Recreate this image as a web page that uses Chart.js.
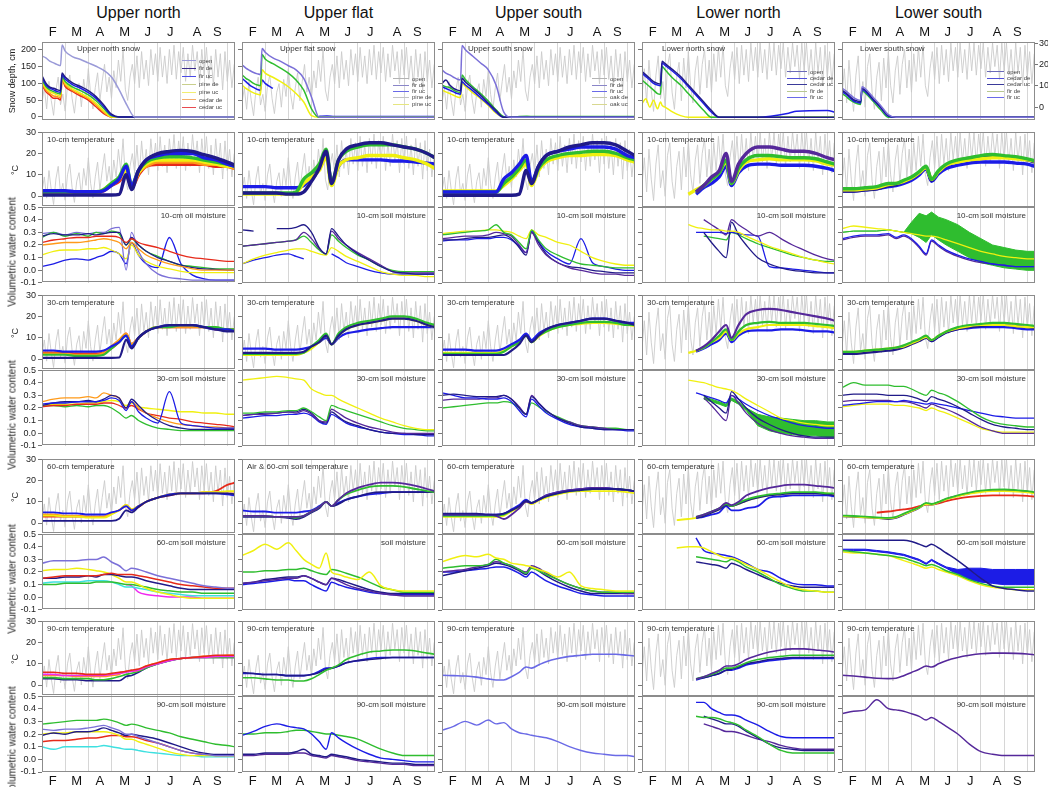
<!DOCTYPE html>
<html lang="en">
<head>
<meta charset="UTF-8">
<title>Snow, soil temperature and soil moisture</title>
<script src="https://cdn.jsdelivr.net/npm/chart.js"></script>
<style>
  body { margin: 0; background: #fff; font-family: "Liberation Sans", Arial, sans-serif; }
  #wrap { position: relative; width: 1048px; height: 787px; overflow: hidden; }
  canvas { position: absolute; }
  .ttl { position: absolute; top: 4px; width: 193px; text-align: center; font-size: 16px; line-height: 18px; color: #111; }
  .lbl { position: absolute; font-size: 8px; line-height: 9px; color: #333; white-space: nowrap; }
  .leg { position: absolute; font-size: 6px; line-height: 7px; color: #444; white-space: nowrap; }
  .leg i { display: inline-block; height: 0; border-top: 1px solid; vertical-align: middle; margin-right: 3px; }
  .yt { position: absolute; color: #222; white-space: nowrap; transform: translate(-50%, -50%) rotate(-90deg); }
</style>
</head>
<body>
<div id="wrap"></div>
<script>
// x = days since ~Jan 18
const G = [0,15,30,45,60,70,80,90,100,109,116,125,135,150,165,180,195,210,225,240,250];
const SG = [0,5,10,15,20,24,26,30,40,50,60,70,80,90,100,110,120,150,190,200,240,250];
const GRID_X = [30,60,90,120,150,180,210,240];
const MONTH_POS = [14,45,75,107,137,166,201,227];
const MONTH_LBL = ['F','M','A','M','J','J','A','S'];
const COL_TITLES = ['Upper north','Upper flat','Upper south','Lower north','Lower south'];
const AIR_STEP = 3;

// air temperature (gray), every 3 days
const airUp = [2,9,-1,12,3,-4,8,14,1,6,
  -2,10,15,4,-3,7,11,0,13,5,
  18,6,-1,9,16,3,12,20,7,14,
  4,17,9,22,12,27,8,3,14,20,
  11,24,9,26,13,22,10,27,15,25,
  12,28,14,24,11,27,15,29,13,26,
  16,28,12,25,14,29,17,26,11,27,
  15,28,13,24,10,27,14,25,8,26,
  12,22,9,20];
const airLow = [5,18,2,22,8,-2,15,24,4,12,
  0,19,25,7,-1,14,21,3,23,9,
  26,10,2,17,24,6,20,27,9,22,
  7,25,12,28,14,29,10,5,18,26,
  13,28,11,29,15,27,12,30,17,28,
  14,30,16,27,13,30,17,30,15,29,
  18,30,14,28,16,30,19,29,13,30,
  17,30,15,27,12,30,16,28,10,29,
  14,26,11,25];

// ---- Upper north ----
const un_s_open   = [180,175,165,160,155,152,213,195,178,170,160,150,138,118,80,35,0,0,0,0,0,0];
const un_s_navy   = [122,100,88,85,80,78,130,118,100,90,78,60,35,8,0,0,0,0,0,0,0,0];
const un_s_blue   = [118,95,85,80,75,73,125,112,95,85,72,55,30,5,0,0,0,0,0,0,0,0];
const un_s_green  = [110,90,80,75,70,68,120,105,88,78,65,48,25,3,0,0,0,0,0,0,0,0];
const un_s_yellow = [105,85,75,70,65,62,115,100,82,70,58,40,18,0,0,0,0,0,0,0,0,0];
const un_s_orange = [100,80,70,62,60,57,112,95,78,66,54,35,14,0,0,0,0,0,0,0,0,0];
const un_s_red    = [95,75,65,55,55,50,110,90,75,62,50,30,10,0,0,0,0,0,0,0,0,0];

const un10t_navy   = [0.5,0.5,0.5,0.5,0.5,0.5,0.5,0.5,0.8,10,3,12,17,20,21,21.5,21,19.5,18,16,14.5];
const un10t_blue   = [2.5,2.5,2.5,2,2,2,2.5,5,8,14,5,12,17,19,20,20,20,18,17,15,14];
const un10t_green  = [2,2,2,2,2,2,3,6,9,15,5,12,16,18,18.5,18.5,18,17,16,15,14];
const un10t_yellow = [1.5,1.5,1.5,1.5,1.5,1.5,3,6,8,12,5,11,15,17,17,17,17,16,15,14,14];
const un10t_orange = [1.5,1.5,1.5,1.5,1.5,1.5,3,5,8,12,4,11,14,16,16,16,16,15,15,14,13];
const un10t_red    = [2,2,2,1.5,1.5,1.5,2.5,5,7,11,4,10,14,15,15,15,15,15,14,14,13];

const un10m_navy   = [0.27,0.29,0.28,0.28,0.29,0.28,0.29,0.3,0.3,0.2,0.26,0.2,0.15,0.1,0.07,0.04,0.02,0.01,0.005,0,0];
const un10m_green  = [0.26,0.3,0.27,0.29,0.27,0.3,0.29,0.31,0.29,0.2,0.25,0.2,0.15,0.11,0.07,0.04,0.03,0.02,0.01,0.01,0.01];
const un10m_lpurp  = [0.29,0.3,0.28,0.3,0.29,0.3,0.3,0.33,0.34,0.0,0.3,0.15,0.05,-0.03,-0.06,-0.07,-0.08,-0.08,-0.08,-0.08,-0.08];
const un10m_blue   = [0.03,0.05,0.08,0.09,0.08,0.1,0.12,0.15,0.13,0.05,0.22,0.12,0.05,0.02,0.26,0.05,-0.04,-0.07,-0.08,-0.08,-0.08];
const un10m_red    = [0.22,0.24,0.25,0.26,0.26,0.27,0.27,0.27,0.26,0.22,0.25,0.22,0.2,0.18,0.15,0.12,0.1,0.09,0.08,0.07,0.07];
const un10m_orange = [0.2,0.21,0.22,0.22,0.23,0.24,0.25,0.24,0.22,0.17,0.22,0.17,0.12,0.08,0.05,0.03,0.01,0,0,0,0];
const un10m_yellow = [0.12,0.15,0.16,0.16,0.17,0.17,0.18,0.16,0.13,0.09,0.2,0.12,0.07,0.03,0.01,-0.01,-0.02,-0.02,-0.02,-0.02,-0.02];

const un30t_navy   = [0.5,0.5,0.5,0.5,0.5,0.5,0.5,0.5,0.7,9,5,10,13,15,16,16,16,15,14,13,13];
const un30t_blue   = [4,4,3.5,3.5,3.5,3.5,4,6,8,11,6,10,13,15,16,16,16,15,14,14,13];
const un30t_red    = [3,3,3,2.5,2.5,2.5,3,5,8,12,7,10,13,15,15,15,15,15,14,14,14];
const un30t_green  = [2,2,2,1.5,1.5,1.5,2,5,8,11,6,10,13,15,15,16,16,15,15,14,14];
const un30t_orange = [2.5,2.5,2.5,2,2,2,3,6,9,12,7,10,13,15,15,15,15,15,14,14,14];

const un30m_orange = [0.25,0.27,0.28,0.28,0.29,0.28,0.32,0.3,0.28,0.2,0.25,0.2,0.16,0.12,0.09,0.07,0.06,0.05,0.05,0.04,0.04];
const un30m_navy   = [0.22,0.24,0.25,0.25,0.26,0.25,0.27,0.3,0.28,0.2,0.27,0.22,0.16,0.1,0.06,0.04,0.03,0.03,0.03,0.03,0.03];
const un30m_green  = [0.22,0.22,0.21,0.22,0.21,0.22,0.22,0.2,0.16,0.12,0.14,0.1,0.07,0.04,0.03,0.02,0.02,0.02,0.02,0.02,0.02];
const un30m_yellow = [0.22,0.23,0.23,0.23,0.24,0.24,0.25,0.26,0.25,0.22,0.24,0.21,0.2,0.19,0.18,0.17,0.17,0.16,0.16,0.15,0.15];
const un30m_red    = [0.21,0.22,0.22,0.23,0.23,0.23,0.24,0.24,0.22,0.2,0.22,0.19,0.16,0.14,0.12,0.11,0.09,0.08,0.07,0.06,0.05];
const un30m_blue   = [0.23,0.24,0.24,0.25,0.25,0.25,0.26,0.28,0.26,0.18,0.25,0.17,0.12,0.08,0.33,0.08,0.06,0.05,0.04,0.04,0.04];

const un60t_blue   = [5,5,4.5,4.5,4,4,4,5,6,8,6,8,10,12,13.5,14,14,14,14,13.5,13];
const un60t_red    = [3,3,3,3,3,3,3,4.5,6,8,6,7.5,10,12,13,14,14,14,15,18,19];
const un60t_orange = [4,4,3.5,3.5,3,3,3,4.5,6,8.5,6.5,8,10,12,13.5,14,14,14.5,14.5,14,14];
const un60t_navy   = [1,1,1,1,1,1,1,1,2,6,5,7.5,10,12,13,14,14,14,14,14,13.5];
const un60t_yellow = [3.5,3.5,3,3,2.5,2.5,2.5,4,6,8.5,6.5,8,10,12,13.5,14,14,14.5,14.5,15,15];

const un60m_lpurp  = [0.27,0.29,0.29,0.29,0.3,0.3,0.32,0.28,0.25,0.21,0.23,0.22,0.2,0.17,0.15,0.13,0.11,0.09,0.08,0.07,0.07];
const un60m_yellow = [0.21,0.22,0.22,0.23,0.22,0.21,0.2,0.18,0.15,0.12,0.12,0.1,0.07,0.04,0.02,0.0,-0.01,-0.01,-0.01,-0.01,-0.01];
const un60m_red    = [0.15,0.16,0.17,0.17,0.17,0.17,0.18,0.19,0.18,0.18,0.18,0.17,0.16,0.14,0.12,0.1,0.09,0.08,0.07,0.07,0.07];
const un60m_navy   = [0.15,0.15,0.16,0.16,0.17,0.16,0.18,0.18,0.17,0.16,0.16,0.15,0.13,0.11,0.09,0.07,0.06,0.06,0.06,0.06,0.06];
const un60m_green  = [0.1,0.1,0.11,0.11,0.11,0.12,0.12,0.12,0.11,0.1,0.1,0.09,0.08,0.06,0.05,0.04,0.04,0.03,0.03,0.03,0.03];
const un60m_cyan   = [0.11,0.12,0.12,0.12,0.13,0.13,0.13,0.12,0.1,0.08,0.08,0.07,0.06,0.04,0.03,0.02,0.01,0.01,0.01,0.01,0.01];
const un60m_mag    = [null,null,null,null,null,null,null,null,null,0.1,0.09,0.04,0.02,0.01,0,0,0,-0.01,-0.01,-0.01,-0.01];

const un90t_red    = [6,6,5.5,5.5,5,5,5,5.5,6,6.5,7,7.5,9,10.5,12,12.5,13,13.5,14,14,14];
const un90t_mag    = [5,5,4.5,4.5,4.5,4.5,4.5,5,5.5,6,6.5,7,8.5,10,11.5,12.5,13,13,13.5,13.5,13.5];
const un90t_navy   = [3,3,2.5,2.5,2,2,2,2,2,4,4.5,6,8,10,11.5,12.5,13,13,13,13,13];
const un90t_green  = [3.5,3.5,3,3,3,2.5,2.5,3,4,5,5.5,6.5,8,10,11.5,12.5,13,13,13,13,13];
const un90t_orange = [4.5,4.5,4.5,4,4,4,4,4.5,5,6.5,6.5,7,9,10.5,12,12.5,13,13.5,13.5,14,14];

const un90m_green  = [0.28,0.29,0.3,0.31,0.31,0.31,0.32,0.31,0.29,0.27,0.28,0.27,0.25,0.23,0.21,0.18,0.16,0.14,0.12,0.11,0.1];
const un90m_lpurp  = [0.24,0.23,0.24,0.24,0.25,0.26,0.27,0.25,0.23,0.2,0.2,0.18,0.16,0.13,0.1,0.07,0.05,0.04,0.03,0.03,0.03];
const un90m_navy   = [0.19,0.21,0.2,0.22,0.22,0.23,0.25,0.23,0.21,0.19,0.2,0.19,0.18,0.16,0.13,0.1,0.07,0.05,0.04,0.04,0.04];
const un90m_yellow = [0.2,0.21,0.21,0.22,0.22,0.22,0.22,0.21,0.19,0.16,0.16,0.14,0.12,0.09,0.06,0.04,0.03,0.03,0.03,0.03,0.03];
const un90m_red    = [0.14,0.15,0.15,0.16,0.17,0.17,0.18,0.19,0.19,0.18,0.18,0.17,0.15,0.13,0.1,0.07,0.05,0.04,0.03,0.03,0.03];
const un90m_cyan   = [0.1,0.08,0.1,0.1,0.1,0.1,0.11,0.1,0.09,0.08,0.08,0.07,0.06,0.05,0.04,0.03,0.03,0.02,0.02,0.02,0.02];

// ---- Upper flat ----
const uf_s_lpurp  = [155,145,138,132,128,126,203,192,175,165,152,140,115,60,0,0,0,0,0,0,0,0];
const uf_s_green  = [125,115,108,100,95,93,185,172,158,145,130,110,80,25,0,0,0,0,0,0,0,0];
const uf_s_yellow = [95,85,78,72,68,66,140,130,118,105,90,70,45,5,0,0,0,0,0,0,0,0];
const uf_s_blue   = [115,105,95,88,82,80,110,100,85,null,null,null,null,null,3,4,2,2,2,2,2,2];

const uf10t_navy   = [1.5,1.5,1.5,1.5,1,1,2,7,13,21,6,17,22,24,25,25,24,23,22,20,18];
const uf10t_green  = [1.5,1.5,1.5,1.5,1.5,2,8,11,15,22,6,17,21,23,24,24,24,23,22,20,18];
const uf10t_yellow = [1,1,1,1,1,1.5,6,9,12,18,5,14,17,18,19,19,19,18,17,15,13];
const uf10t_blue   = [4.5,4.5,4.5,4,4,4,5,9,14,20,7,14,17,17,17,17,16.5,16.5,16,15.5,15];

const uf10m_navy   = [0.32,0.31,null,0.33,0.33,0.34,0.36,0.3,0.18,0.13,0.33,0.27,0.2,0.13,0.08,0.03,-0.01,-0.02,-0.03,-0.03,-0.03];
const uf10m_purple = [0.19,0.2,0.21,0.22,0.23,0.24,0.3,0.25,0.17,0.13,0.31,0.25,0.2,0.14,0.09,0.04,-0.01,-0.02,-0.02,-0.02,-0.02];
const uf10m_green  = [0.19,0.2,0.21,0.22,0.23,0.24,0.27,0.22,0.16,0.13,0.28,0.23,0.18,0.12,0.08,0.03,0.0,-0.01,-0.01,-0.01,-0.01];
const uf10m_yellow = [0.05,0.09,0.12,0.14,0.16,0.17,0.17,0.15,0.13,0.12,0.18,0.15,0.11,0.07,0.03,-0.01,-0.03,-0.04,-0.04,-0.05,-0.05];
const uf10m_blue   = [0.05,0.08,0.1,0.12,0.13,0.11,0.09,null,null,null,0.13,0.1,0.06,0.03,0.0,-0.02,-0.03,-0.03,-0.03,-0.03,-0.03];

const uf30t_navy   = [3,3,3,3,3,3,3.5,6,8,11,7,11,14,16,17,18,19,19,18,16,15];
const uf30t_green  = [2.5,2.5,2.5,2.5,2.5,2.5,3,6,9,12,7,12,15,17,18,19,20,20,19,17,16];
const uf30t_yellow = [2,2,2,2,2,2,3,5,8,11,7,11,14,16,17,18,19,19,18,16,15];
const uf30t_blue   = [5,5,5,4.5,4.5,4.5,5,6,8,10,7,10,12,13,14,14.5,15,15,15,15,15];

const uf30m_yellow = [0.42,0.43,0.44,0.45,0.44,0.43,0.42,0.35,0.32,0.3,0.3,0.27,0.24,0.2,0.16,0.12,0.09,0.06,0.04,0.03,0.03];
const uf30m_green  = [0.16,0.16,0.17,0.17,0.18,0.18,0.2,0.17,0.13,0.1,0.22,0.2,0.18,0.15,0.12,0.09,0.06,0.04,0.03,0.02,0.02];
const uf30m_purple = [0.14,0.15,0.15,0.16,0.17,0.16,0.18,0.15,0.1,0.09,0.19,0.16,0.12,0.08,0.05,0.03,0.01,0.0,0.0,0.0,0.0];
const uf30m_navy   = [0.14,0.15,0.16,0.16,0.17,0.17,0.19,0.16,0.1,0.08,0.17,0.13,0.09,0.06,0.03,0.01,0.0,0.0,-0.01,-0.01,-0.01];
const uf30m_blue   = [0.12,0.13,0.14,0.14,0.15,0.15,0.16,0.14,0.09,0.07,0.15,0.12,0.08,0.05,0.03,0.01,0.0,-0.01,-0.01,-0.02,-0.02];

const uf60t_purple = [3.5,3.5,3.5,3,3,3,3.5,5.5,7.5,10,8,11,14,16.5,18,19,19,18.5,17.5,16,15];
const uf60t_green  = [3.5,3.5,3.5,3,3,2.5,3.5,5.5,7.5,10,8,11,13.5,15.5,17,17.5,17.5,17,16,15,14.5];
const uf60t_navy   = [3,3,3,3,2.5,2,3,5,7,10,8,9,11,12.5,14,14.5,14.5,14.5,14.5,14.5,14.5];
const uf60t_blue   = [6,5.5,5.5,5,5,5,5.5,6,8,10,8,9.5,11,12.5,13.5,14,14.5,14.5,14.5,14.5,14.5];

const uf60m_yellow = [0.33,0.37,0.42,0.38,0.43,0.37,0.3,0.26,0.23,0.35,0.2,0.18,0.16,0.14,0.2,0.09,0.06,0.05,0.05,0.05,0.05];
const uf60m_green  = [0.2,0.2,0.21,0.21,0.22,0.22,0.23,0.21,0.19,0.18,0.22,0.21,0.19,0.16,0.12,0.08,0.06,0.04,0.04,0.04,0.04];
const uf60m_purple = [0.11,0.12,0.13,0.14,0.15,0.15,0.17,0.15,0.12,0.1,0.15,0.13,0.1,0.07,0.05,0.03,0.02,0.01,0.01,0.01,0.01];
const uf60m_navy   = [0.11,0.12,0.14,0.15,0.16,0.16,0.17,0.15,0.12,0.1,0.15,0.14,0.12,0.09,0.06,0.04,0.03,0.03,0.03,0.03,0.03];
const uf60m_blue   = [0.1,0.11,0.12,0.13,0.14,0.13,0.13,0.1,0.07,0.05,0.12,0.1,0.08,0.06,0.04,0.03,0.02,0.02,0.02,0.02,0.02];

const uf90t_green  = [3.5,3.5,3,2.5,2.5,2,2,3,5,7,8,9.5,12,14,15.5,16,16.5,16.5,16,15,14.5];
const uf90t_navy   = [6,5.5,5,5,4.5,4.5,4.5,5,6,7.5,8,9,10.5,11.5,12,12.5,13,13,13,13,13];
const uf90t_blue   = [5.5,5.5,5,5,4.5,4.5,4.5,5,6.5,8,8,9,10.5,11.5,12.5,13,13,13,13,13,13];

const uf90m_blue   = [0.19,0.22,0.26,0.28,0.26,0.25,0.24,0.2,0.14,0.08,0.21,0.17,0.13,0.08,0.04,0.01,0.0,-0.01,-0.02,-0.02,-0.02];
const uf90m_green  = [0.2,0.2,0.21,0.21,0.22,0.23,0.23,0.22,0.21,0.2,0.2,0.19,0.18,0.16,0.12,0.08,0.05,0.03,0.03,0.03,0.03];
const uf90m_navy   = [0.04,0.04,0.05,0.05,0.05,0.06,0.08,0.04,0.03,0.02,0.04,0.03,0.02,0.0,-0.01,-0.02,-0.03,-0.03,-0.04,-0.04,-0.04];
const uf90m_purple = [0.03,0.03,0.04,0.04,0.04,0.05,0.05,0.03,0.02,0.01,0.03,0.02,0.01,-0.01,-0.02,-0.03,-0.04,-0.04,-0.05,-0.05,-0.05];

// ---- Upper south ----
const us_s_lpurp  = [140,130,125,118,112,110,212,200,180,160,140,95,15,0,0,0,0,0,0,0,0,0];
const us_s_navy   = [100,110,95,85,80,78,115,105,85,65,42,20,0,0,0,0,0,0,0,0,0,0];
const us_s_blue   = [90,85,80,75,70,68,105,96,78,58,38,15,0,0,0,0,0,0,0,0,0,0];
const us_s_green  = [95,90,88,80,75,73,125,112,90,70,48,22,2,0,2,3,2,2,2,2,2,2];
const us_s_yellow = [80,75,70,65,60,58,100,92,72,55,35,12,0,0,0,0,0,0,0,0,0,0];

const us10t_navy   = [0.5,0.5,0.5,0.5,0.5,0.5,0.5,0.5,1,12,6,14,19,21,23,24,25,25,24,21,19];
const us10t_blue   = [2,2,2,2,2,2,8,11,15,19,7,14,19,21,22,23,23,23,22,19,18];
const us10t_green  = [2,2,2,2,2,2,6,9,13,17,6,13,17,19,20,20.5,21,21,20,18,17];
const us10t_yellow = [2.5,2.5,2.5,2.5,2.5,2.5,5,8,12,15,5,12,16,18,19,19,19.5,19.5,19,17,16];

const us10m_green  = [0.28,0.29,0.3,0.31,0.32,0.36,0.3,0.28,0.22,0.17,0.32,0.24,0.17,0.12,0.08,0.05,0.04,0.03,0.02,0.02,0.02];
const us10m_yellow = [0.29,0.3,0.31,0.31,0.32,0.32,0.31,0.3,0.27,0.25,0.32,0.28,0.26,0.22,0.2,0.15,0.1,0.07,0.05,0.04,0.04];
const us10m_purple = [0.25,0.26,0.27,0.27,0.28,0.3,0.29,0.27,0.2,0.14,0.3,0.2,0.12,0.06,0.02,0.0,-0.02,-0.03,-0.03,-0.04,-0.04];
const us10m_navy   = [0.24,0.24,0.25,0.26,0.26,0.27,0.28,0.25,0.18,0.12,0.3,0.22,0.13,0.06,0.03,0.02,0.0,-0.01,-0.02,-0.02,-0.02];
const us10m_blue   = [0.23,0.24,0.24,0.25,0.25,0.26,0.26,0.24,0.19,0.14,0.31,0.23,0.15,0.09,0.05,0.25,0.06,0.03,0.01,0.0,0.0];

const us30t_navy   = [2,2,2,2,2,2,2,4,7,11,8,11,14,16,17,18,19,19,18,17,16];
const us30t_blue   = [4.5,4.5,4.5,4,4,4,5,7,9,12,9,12,14,16,17,18,19,19,18,17,17];
const us30t_green  = [2.5,2.5,2.5,2.5,2.5,2.5,3.5,6,8,11,8,11,13,15,16,17,17.5,17.5,17,16,16];
const us30t_yellow = [3,3,3,3,3,3,4,6,8,11,8,10.5,13,15,16,16.5,17,17,16.5,16,15.5];

const us30m_navy   = [0.3,0.31,0.3,0.29,0.29,0.29,0.3,0.27,0.2,0.15,0.29,0.24,0.18,0.12,0.08,0.05,0.04,0.03,0.03,0.03,0.03];
const us30m_blue   = [0.32,0.3,0.28,0.28,0.27,0.27,0.28,0.25,0.18,0.13,0.27,0.22,0.16,0.11,0.07,0.05,0.04,0.03,0.03,0.02,0.02];
const us30m_purple = [0.26,0.27,0.27,0.27,0.28,0.28,0.3,0.27,0.21,0.15,0.3,0.24,0.18,0.12,0.09,0.06,0.05,0.04,0.03,0.03,0.03];
const us30m_green  = [0.2,0.21,0.22,0.23,0.24,0.24,0.25,0.24,0.2,0.15,0.24,0.21,0.17,0.13,0.09,0.06,0.05,0.04,0.04,0.03,0.03];

const us60t_navy   = [4.5,4.5,4.5,4.5,4,4,4.5,6,8,10.5,9.5,11,12.5,14,15,15.5,16,16,16,15.5,15];
const us60t_purple = [4,4,4,4,4,3.5,2,4,7,10,9.5,11,13,14.5,15.5,16,16.5,16.5,16,15.5,15];
const us60t_blue   = [4,4,4,4,4,4,4.5,6.5,8.5,11,9.5,11,13,14.5,15.5,16,16.5,16.5,16,15.5,15];
const us60t_green  = [3.5,3.5,3.5,3.5,3.5,3.5,4,6,8,10.5,9.5,11,12.5,14,15,15.5,16,16,16,15.5,15];
const us60t_yellow = [3,3,3,3,3,3,3.5,5.5,7.5,10,9,10.5,12,13.5,14.5,15,15,15,15,14.5,14];

const us60m_yellow = [0.28,0.31,0.33,0.32,0.34,0.31,0.3,0.27,0.26,0.25,0.24,0.22,0.2,0.16,0.2,0.09,0.07,0.06,0.05,0.05,0.05];
const us60m_green  = [0.23,0.24,0.25,0.25,0.26,0.3,0.27,0.25,0.22,0.19,0.23,0.21,0.18,0.14,0.1,0.07,0.05,0.04,0.04,0.04,0.04];
const us60m_purple = [0.2,0.21,0.22,0.24,0.26,0.28,0.27,0.25,0.22,0.2,0.25,0.23,0.19,0.14,0.1,0.07,0.05,0.04,0.04,0.03,0.03];
const us60m_navy   = [0.17,0.19,0.21,0.23,0.25,0.27,0.26,0.24,0.21,0.18,0.24,0.21,0.17,0.12,0.08,0.05,0.03,0.03,0.03,0.03,0.03];
const us60m_blue   = [0.2,0.2,0.21,0.22,0.23,0.24,0.24,0.22,0.19,0.16,0.2,0.17,0.13,0.09,0.06,0.03,0.02,0.01,0.01,0.01,0.01];

const us90t_lblue  = [4.7,4.5,4.3,3.8,3,2.5,2.5,4,6,8.5,8,9.5,11,12.5,13.5,14,14.5,14.5,14.5,14,13.7];
const us90m_lblue  = [0.23,0.26,0.3,0.27,0.31,0.28,0.29,0.24,0.21,0.2,0.19,0.18,0.17,0.14,0.1,0.07,0.05,0.04,0.03,0.03,0.02];

// ---- Lower north ----
const ln_s_navy   = [135,125,115,105,100,98,165,158,140,120,95,70,45,20,0,0,0,0,0,0,0,0];
const ln_s_blue   = [130,120,110,100,95,93,160,153,135,115,90,65,40,15,0,0,0,0,12,18,20,15];
const ln_s_green  = [110,100,90,80,70,68,150,140,115,95,70,45,20,0,0,0,0,0,0,0,0,0];
const ln_s_yellow = [40,55,30,50,25,45,35,30,15,5,0,0,0,0,0,0,0,0,0,0,0,0];

const ln10t_purple = [null,null,null,null,null,2,5,9,12,20,7,15,20,23,23,22,21,21,20,18,17];
const ln10t_green  = [null,null,null,null,null,2,5,8,11,17,6,13,17,19,19,18.5,18,18,17.5,16,15];
const ln10t_yellow = [null,null,null,null,1,3,5,8,11,16,6,12,16,17,17.5,17,17,17,16.5,15,14.5];
const ln10t_blue   = [null,null,null,null,null,1,4,6,9,14,5,11,14,15,15,14.5,14.5,14.5,14,13,12];

const ln10m_yellow = [null,null,null,null,0.36,0.34,0.33,0.32,0.32,0.31,0.31,0.3,0.27,0.23,0.19,0.16,0.13,0.1,0.08,0.06,0.05];
const ln10m_purple = [null,null,null,null,null,null,0.4,0.36,0.32,0.28,0.4,0.36,0.32,0.27,0.3,0.25,0.2,0.16,0.12,0.09,0.08];
const ln10m_navy   = [null,null,null,null,null,null,0.3,0.22,0.15,0.1,0.38,0.28,0.2,0.1,0.05,0.02,0.0,-0.01,-0.02,-0.02,-0.02];
const ln10m_blue   = [null,null,null,null,null,0.3,0.3,0.3,0.3,0.29,0.3,0.29,0.28,0.27,0.03,0.02,0.01,0.0,-0.01,-0.02,-0.02];
const ln10m_green  = [null,null,null,null,null,null,0.27,0.26,0.25,0.24,0.3,0.28,0.25,0.21,0.18,0.15,0.12,0.1,0.08,0.07,0.07];

const ln30t_purple = [null,null,null,null,null,4,6,9,13,16,10,16,21,23,23.5,23,22,21,20,19,18];
const ln30t_green  = [null,null,null,null,null,4,5.5,8,11,14,9,13,16,17,17.5,17,17,17,16.5,16,15.5];
const ln30t_yellow = [null,null,null,null,3,4,5.5,8,10,13,9,12,14,15,16,16,16,16,15.5,15,14.5];
const ln30t_blue   = [null,null,null,null,null,3.5,5,7,9,12,8,11,13,13.5,13.5,14,14,13.5,13,13,12.5];

const ln30m_yellow  = [null,null,null,null,0.42,0.41,0.4,0.38,0.36,0.35,0.34,0.31,0.27,0.22,0.17,0.12,0.1,0.08,0.07,0.06,0.06];
const ln30m_navy    = [null,null,null,null,null,null,0.3,0.25,0.2,0.16,0.33,0.27,0.2,0.12,0.07,0.03,0.0,-0.02,-0.03,-0.03,-0.03];
const ln30m_purple  = [null,null,null,null,null,null,0.28,0.22,0.15,0.1,0.3,0.24,0.16,0.08,0.03,0.0,-0.02,-0.03,-0.04,-0.04,-0.04];
const ln30m_blue    = [null,null,null,null,null,0.32,0.3,0.28,0.26,0.24,0.3,0.27,0.23,0.18,0.14,0.11,0.08,0.06,0.05,0.04,0.04];
const ln30m_greenHi = [null,null,null,null,null,null,0.29,0.27,0.25,0.23,0.28,0.25,0.2,0.15,0.13,0.12,0.11,0.1,0.1,0.09,0.09];
const ln30m_greenLo = [null,null,null,null,null,null,0.27,0.25,0.23,0.21,0.26,0.23,0.18,0.06,0.02,0.0,-0.01,-0.02,-0.02,-0.03,-0.03];

const ln60t_purple = [null,null,null,null,null,3,4,5.5,7,9.5,8.5,10,13,15,16.5,17.5,18,18,17.5,17,16.5];
const ln60t_green  = [null,null,null,null,null,3,4,5.5,7,9,8,9.5,11,12.5,13.5,14,14.5,14.5,14.5,14,14];
const ln60t_navy   = [null,null,null,null,null,2.5,3.5,5,6.5,8.5,8,9,10.5,12,13,13.5,14,14,14,13.5,13];
const ln60t_blue   = [null,null,null,null,null,2.5,3,4,5,8,6,6,7,8,12,12.5,13,13,13,13,12.5];
const ln60t_yellow = [null,null,null,1.5,2,2.5,3.5,5,6.5,8.5,8,9,10.5,12,13,13.5,14,14,14,14,13.5];

const ln60m_yellow = [null,null,null,0.39,0.4,0.4,0.39,0.36,0.33,0.31,0.31,0.29,0.26,0.22,0.17,0.12,0.08,0.06,0.05,0.04,0.04];
const ln60m_blue   = [null,null,null,null,null,0.47,0.37,0.35,0.34,0.33,0.32,0.3,0.27,0.22,0.2,0.15,0.11,0.1,0.1,0.09,0.09];
const ln60m_green  = [null,null,null,null,null,0.32,0.31,0.3,0.29,0.28,0.3,0.28,0.24,0.2,0.15,0.1,0.07,0.05,0.05,0.04,0.04];
const ln60m_navy   = [null,null,null,null,null,0.28,0.27,0.26,0.25,0.23,0.27,0.25,0.22,0.18,0.14,0.11,0.09,0.08,0.08,0.08,0.08];

const ln90t_purple = [null,null,null,null,null,3,4,5.5,7,9,9,10,12,14,15.5,16.5,17,17,16.5,16,15.5];
const ln90t_green  = [null,null,null,null,null,3,4,5,6.5,8,8,9,10.5,12,13,13.5,14,14,14,14,14];
const ln90t_navy   = [null,null,null,null,null,3,3.5,4.5,5.5,7,7.5,8.5,10,11,12,12.5,13,13,13,13,13];
const ln90t_blue   = [null,null,null,null,null,2.5,3.5,4.5,5.5,7,7,8,9.5,10.5,11.5,12,12.5,12.5,12.5,12.5,12.5];

const ln90m_blue   = [null,null,null,null,null,0.45,0.45,0.4,0.37,0.35,0.35,0.34,0.31,0.27,0.22,0.18,0.17,0.17,0.17,0.17,0.17];
const ln90m_green  = [null,null,null,null,null,0.34,0.33,0.33,0.32,0.3,0.29,0.27,0.23,0.18,0.12,0.07,0.05,0.05,0.05,0.05,0.05];
const ln90m_navy   = [null,null,null,null,null,null,0.34,0.32,0.3,0.28,0.28,0.26,0.22,0.17,0.12,0.09,0.08,0.07,0.07,0.07,0.07];
const ln90m_purple = [null,null,null,null,null,null,0.28,0.26,0.24,0.22,0.22,0.21,0.19,0.16,0.14,0.11,0.09,0.08,0.08,0.08,0.08];

// ---- Lower south ----
const ls_s_lpurp  = [86,78,68,58,52,50,90,85,60,35,8,0,0,0,0,0,0,0,0,0,0,0];
const ls_s_navy   = [80,72,62,52,48,46,85,80,55,30,5,0,0,0,0,0,0,0,0,0,0,0];
const ls_s_blue   = [75,68,58,48,44,42,82,76,52,28,3,0,0,0,0,0,0,0,0,0,0,0];
const ls_s_green  = [70,62,52,45,40,38,78,72,48,22,0,0,0,0,0,0,0,0,0,0,0,0];
const ls_s_yellow = [null,null,null,null,null,null,null,null,null,null,1,1,1,1,1,1,1,1,1,1,1,1];

const ls10t_green  = [3.5,3.5,4,4.5,6,6,7.5,9,11.5,14,8,12,15,17,18,19,19.5,19,18.5,17.5,16.5];
const ls10t_yellow = [3,3,3.5,4,5.5,6,7,8.5,11,13.5,8,11.5,14.5,16,17,17.5,18,18,17.5,17,16.5];
const ls10t_navy   = [2.5,2.5,3,3.5,5,5.5,7,8.5,11,13.5,7.5,11.5,14.5,16.5,17.5,18.5,19,18.5,18,17,16];
const ls10t_blue   = [2.5,2.5,3,3.5,4.5,5,6,7.5,10,13,7,10.5,13,14.5,15.5,16,16,16,15.5,15,14];

const ls10m_yellow  = [0.33,0.35,0.34,0.33,0.32,0.31,0.3,0.29,0.28,0.27,0.27,0.26,0.24,0.21,0.18,0.15,0.13,0.11,0.1,0.09,0.09];
const ls10m_blue    = [0.25,0.27,0.28,0.28,0.29,0.26,0.28,0.25,0.19,0.13,0.24,0.2,0.16,0.12,0.09,0.07,0.05,0.04,0.03,0.03,0.03];
const ls10m_purple  = [0.24,0.26,0.27,0.27,0.28,0.25,0.27,0.24,0.18,0.12,0.23,0.19,0.15,0.11,0.08,0.06,0.05,0.04,0.03,0.03,0.03];
const ls10m_greenHi = [0.3,0.31,0.31,0.31,0.32,0.31,0.3,0.38,0.45,0.43,0.46,0.42,0.4,0.36,0.3,0.25,0.2,0.18,0.16,0.15,0.15];
const ls10m_greenLo = [0.3,0.31,0.31,0.31,0.32,0.31,0.3,0.29,0.26,0.22,0.28,0.24,0.2,0.15,0.1,0.06,0.04,0.02,0.01,0.0,0.0];

const ls30t_green  = [3.5,3.5,4,4.5,5,5.5,6.5,8,9.5,11,9,11,13,15,16,16.5,17,17,16.5,16,15.5];
const ls30t_yellow = [3.5,3.5,4,4.5,5,5.5,6,7.5,9,10.5,9,11,13,14.5,15.5,16,16,16,15.5,15,15];
const ls30t_navy   = [2.5,2.5,3,3.5,4,4.5,5.5,7,8.5,10,8.5,10.5,12.5,14,15,15.5,16,16,15.5,15,14.5];
const ls30t_blue   = [3,3,3.5,4,4.5,5,6,7.5,9,10.5,8.5,10.5,12.5,14,14.5,15,15,15,14.5,14,14];

const ls30m_green  = [0.36,0.4,0.38,0.38,0.38,0.37,0.37,0.35,0.32,0.3,0.34,0.32,0.3,0.25,0.19,0.13,0.09,0.07,0.06,0.05,0.05];
const ls30m_navy   = [0.3,0.31,0.31,0.31,0.3,0.3,0.3,0.29,0.27,0.25,0.29,0.27,0.25,0.21,0.16,0.11,0.07,0.05,0.04,0.03,0.03];
const ls30m_blue   = [0.22,0.23,0.24,0.25,0.25,0.25,0.26,0.25,0.24,0.23,0.24,0.23,0.22,0.2,0.18,0.16,0.14,0.13,0.12,0.12,0.12];
const ls30m_purple = [0.25,0.26,0.26,0.26,0.26,0.25,0.25,0.24,0.22,0.2,0.23,0.21,0.19,0.15,0.1,0.05,0.02,0.0,0.0,0.0,0.0];
const ls30m_yellow = [0.21,0.22,0.23,0.23,0.23,0.22,0.22,0.21,0.2,0.18,0.2,0.18,0.16,0.12,0.08,0.04,0.02,0.01,0.01,0.01,0.01];

const ls60t_green  = [3.6,3.4,3.1,2.8,2.5,3,4.5,6,7.5,9.5,9,10,11.5,13,14.3,15.2,15.7,15.8,15.5,15,14.5];
const ls60t_yellow = [3.3,3.1,2.8,2.5,2.3,2.8,4.2,5.7,7.3,9,8.7,9.8,11.2,12.6,13.8,14.6,15,15,14.8,14.4,14];
const ls60t_navy   = [3.2,3,2.8,2.5,2,2.5,4,5.5,7.2,9,8.7,9.8,11.3,12.8,14,15,15.4,15.5,15.2,14.8,14.3];
const ls60t_red    = [null,null,null,5,5.5,6,6.5,7,8,8.7,8.8,9.3,10.3,11.5,12.3,12.8,13,13,13,12.8,12.5];

const ls60m_navy   = [0.45,0.45,0.45,0.45,0.45,0.45,0.45,0.44,0.42,0.4,0.42,0.39,0.35,0.29,0.22,0.15,0.09,0.07,0.06,0.05,0.05];
const ls60m_green  = [0.37,0.36,0.35,0.34,0.33,0.32,0.31,0.29,0.27,0.25,0.26,0.24,0.21,0.18,0.14,0.11,0.09,0.08,0.08,0.08,0.08];
const ls60m_yellow = [0.36,0.35,0.35,0.34,0.33,0.31,0.29,0.27,0.25,0.23,0.24,0.22,0.2,0.17,0.13,0.1,0.08,0.07,0.06,0.06,0.06];
const ls60m_blueHi = [0.38,0.38,0.38,0.37,0.36,0.35,0.34,0.32,0.3,0.27,0.3,0.27,0.24,0.22,0.23,0.23,0.22,0.22,0.22,0.22,0.22];
const ls60m_blueLo = [0.37,0.37,0.37,0.36,0.35,0.34,0.33,0.31,0.29,0.26,0.29,0.26,0.23,0.18,0.14,0.12,0.11,0.1,0.1,0.1,0.1];

const ls90t_purple = [4.7,4.3,3.8,3.3,3.1,3.3,4.5,6,7.5,9,8.5,10,11.5,13,14,14.7,15,15,14.9,14.6,14.2];
const ls90m_purple = [0.36,0.38,0.39,0.47,0.4,0.39,0.38,0.36,0.34,0.31,0.33,0.3,0.26,0.2,0.12,0.06,0.04,0.03,0.03,0.03,0.03];

// ---------------------------------------------------------------
const FONT = '"Liberation Sans", Arial, Helvetica, sans-serif';
const C = {
  air: '#cbcbcb', open: '#9a9ad8', navy: '#201a88', purple: '#55289a', lpurp: '#7b70d8',
  lblue: '#6a6ae6', blue: '#1c1ce6', green: '#2fbd2f', yellow: '#f0f010', orange: '#ff9a1a',
  red: '#e62a1a', cyan: '#3ee0e0', mag: '#f028f0'
};
const COL_X = [42, 242, 442, 642, 842];
const PW = 193;
const ROW = { snow: [42, 78], t10: [132, 75], m10: [207, 76], t30: [295, 75], m30: [370, 76],
  t60: [459, 75], m60: [534, 76], t90: [621, 75], m90: [696, 76] };
const LW = { snow: 1.5, t10: 3.4, m10: 1.3, t30: 2.2, m30: 1.3, t60: 1.8, m60: 1.5, t90: 1.6, m90: 1.4 };
const YCFG = {
  s: { min: -8, max: 222, ticks: [0, 50, 100, 150, 200], title: 'Snow depth, cm', tsize: 9, dx: 12, dy: 0 },
  t: { min: -5, max: 30, ticks: [0, 10, 20, 30], title: '°C', tsize: 9, dx: 15, dy: 0 },
  m: { min: -0.1, max: 0.5, ticks: [-0.1, 0, 0.1, 0.2, 0.3, 0.4, 0.5], title: 'Volumetric water content', tsize: 10, dx: 12, dy: 7 }
};

const PANELS = [
  { c: 0, r: 'snow', s: [['open', un_s_open], ['navy', un_s_navy], ['blue', un_s_blue], ['green', un_s_green], ['yellow', un_s_yellow], ['orange', un_s_orange], ['red', un_s_red]] },
  { c: 0, r: 't10', s: [['navy', un10t_navy], ['blue', un10t_blue], ['green', un10t_green], ['yellow', un10t_yellow], ['orange', un10t_orange], ['red', un10t_red]] },
  { c: 0, r: 'm10', s: [['red', un10m_red], ['orange', un10m_orange], ['navy', un10m_navy], ['green', un10m_green], ['lpurp', un10m_lpurp], ['yellow', un10m_yellow], ['blue', un10m_blue]] },
  { c: 0, r: 't30', s: [['navy', un30t_navy], ['blue', un30t_blue], ['green', un30t_green], ['orange', un30t_orange], ['red', un30t_red]] },
  { c: 0, r: 'm30', s: [['blue', un30m_blue], ['navy', un30m_navy], ['orange', un30m_orange], ['red', un30m_red], ['yellow', un30m_yellow], ['green', un30m_green]] },
  { c: 0, r: 't60', s: [['navy', un60t_navy], ['blue', un60t_blue], ['yellow', un60t_yellow], ['orange', un60t_orange], ['red', un60t_red]] },
  { c: 0, r: 'm60', s: [['lpurp', un60m_lpurp], ['red', un60m_red], ['navy', un60m_navy], ['yellow', un60m_yellow], ['green', un60m_green], ['cyan', un60m_cyan], ['mag', un60m_mag]] },
  { c: 0, r: 't90', s: [['red', un90t_red], ['mag', un90t_mag], ['orange', un90t_orange], ['green', un90t_green], ['navy', un90t_navy]] },
  { c: 0, r: 'm90', s: [['green', un90m_green], ['lpurp', un90m_lpurp], ['navy', un90m_navy], ['yellow', un90m_yellow], ['red', un90m_red], ['cyan', un90m_cyan]] },

  { c: 1, r: 'snow', s: [['lpurp', uf_s_lpurp], ['green', uf_s_green], ['yellow', uf_s_yellow], ['blue', uf_s_blue]] },
  { c: 1, r: 't10', s: [['navy', uf10t_navy], ['green', uf10t_green], ['yellow', uf10t_yellow], ['blue', uf10t_blue]] },
  { c: 1, r: 'm10', s: [['navy', uf10m_navy], ['purple', uf10m_purple], ['green', uf10m_green], ['yellow', uf10m_yellow], ['blue', uf10m_blue]] },
  { c: 1, r: 't30', s: [['navy', uf30t_navy], ['green', uf30t_green], ['yellow', uf30t_yellow], ['blue', uf30t_blue]] },
  { c: 1, r: 'm30', s: [['yellow', uf30m_yellow], ['green', uf30m_green], ['purple', uf30m_purple], ['navy', uf30m_navy], ['blue', uf30m_blue]] },
  { c: 1, r: 't60', s: [['purple', uf60t_purple], ['green', uf60t_green], ['navy', uf60t_navy], ['blue', uf60t_blue]] },
  { c: 1, r: 'm60', s: [['yellow', uf60m_yellow], ['green', uf60m_green], ['purple', uf60m_purple], ['navy', uf60m_navy], ['blue', uf60m_blue]] },
  { c: 1, r: 't90', s: [['green', uf90t_green], ['navy', uf90t_navy], ['blue', uf90t_blue]] },
  { c: 1, r: 'm90', s: [['blue', uf90m_blue], ['green', uf90m_green], ['navy', uf90m_navy], ['purple', uf90m_purple]] },

  { c: 2, r: 'snow', s: [['lpurp', us_s_lpurp], ['navy', us_s_navy], ['blue', us_s_blue], ['green', us_s_green], ['yellow', us_s_yellow]] },
  { c: 2, r: 't10', s: [['navy', us10t_navy], ['blue', us10t_blue], ['green', us10t_green], ['yellow', us10t_yellow]] },
  { c: 2, r: 'm10', s: [['green', us10m_green], ['yellow', us10m_yellow], ['purple', us10m_purple], ['navy', us10m_navy], ['blue', us10m_blue]] },
  { c: 2, r: 't30', s: [['navy', us30t_navy], ['blue', us30t_blue], ['green', us30t_green], ['yellow', us30t_yellow]] },
  { c: 2, r: 'm30', s: [['navy', us30m_navy], ['blue', us30m_blue], ['purple', us30m_purple], ['green', us30m_green]] },
  { c: 2, r: 't60', s: [['navy', us60t_navy], ['purple', us60t_purple], ['blue', us60t_blue], ['green', us60t_green], ['yellow', us60t_yellow]] },
  { c: 2, r: 'm60', s: [['yellow', us60m_yellow], ['green', us60m_green], ['purple', us60m_purple], ['navy', us60m_navy], ['blue', us60m_blue]] },
  { c: 2, r: 't90', s: [['lblue', us90t_lblue]] },
  { c: 2, r: 'm90', s: [['lblue', us90m_lblue]] },

  { c: 3, r: 'snow', s: [['navy', ln_s_navy], ['blue', ln_s_blue], ['green', ln_s_green], ['yellow', ln_s_yellow]] },
  { c: 3, r: 't10', s: [['purple', ln10t_purple], ['green', ln10t_green], ['yellow', ln10t_yellow], ['blue', ln10t_blue]] },
  { c: 3, r: 'm10', s: [['yellow', ln10m_yellow], ['purple', ln10m_purple], ['navy', ln10m_navy], ['blue', ln10m_blue], ['green', ln10m_green]] },
  { c: 3, r: 't30', s: [['purple', ln30t_purple], ['green', ln30t_green], ['yellow', ln30t_yellow], ['blue', ln30t_blue]] },
  { c: 3, r: 'm30', s: [['yellow', ln30m_yellow], ['navy', ln30m_navy], ['purple', ln30m_purple], ['blue', ln30m_blue]], band: [['green', ln30m_greenHi, ln30m_greenLo]] },
  { c: 3, r: 't60', s: [['purple', ln60t_purple], ['green', ln60t_green], ['navy', ln60t_navy], ['blue', ln60t_blue], ['yellow', ln60t_yellow]] },
  { c: 3, r: 'm60', s: [['yellow', ln60m_yellow], ['blue', ln60m_blue], ['green', ln60m_green], ['navy', ln60m_navy]] },
  { c: 3, r: 't90', s: [['purple', ln90t_purple], ['green', ln90t_green], ['navy', ln90t_navy], ['blue', ln90t_blue]] },
  { c: 3, r: 'm90', s: [['blue', ln90m_blue], ['green', ln90m_green], ['navy', ln90m_navy], ['purple', ln90m_purple]] },

  { c: 4, r: 'snow', s: [['lpurp', ls_s_lpurp], ['navy', ls_s_navy], ['blue', ls_s_blue], ['green', ls_s_green], ['yellow', ls_s_yellow]] },
  { c: 4, r: 't10', s: [['green', ls10t_green], ['yellow', ls10t_yellow], ['navy', ls10t_navy], ['blue', ls10t_blue]] },
  { c: 4, r: 'm10', s: [['yellow', ls10m_yellow], ['blue', ls10m_blue], ['purple', ls10m_purple]], band: [['green', ls10m_greenHi, ls10m_greenLo]] },
  { c: 4, r: 't30', s: [['green', ls30t_green], ['yellow', ls30t_yellow], ['navy', ls30t_navy], ['blue', ls30t_blue]] },
  { c: 4, r: 'm30', s: [['green', ls30m_green], ['navy', ls30m_navy], ['blue', ls30m_blue], ['purple', ls30m_purple], ['yellow', ls30m_yellow]] },
  { c: 4, r: 't60', s: [['green', ls60t_green], ['yellow', ls60t_yellow], ['navy', ls60t_navy], ['red', ls60t_red]] },
  { c: 4, r: 'm60', s: [['navy', ls60m_navy], ['green', ls60m_green], ['yellow', ls60m_yellow]], band: [['blue', ls60m_blueHi, ls60m_blueLo]] },
  { c: 4, r: 't90', s: [['purple', ls90t_purple]] },
  { c: 4, r: 'm90', s: [['purple', ls90m_purple]] }
];

const ROW_KEYS = ['snow', 't10', 'm10', 't30', 'm30', 't60', 'm60', 't90', 'm90'];
const LABELS = [
  ['Upper north snow', '10-cm temperature', '10-cm oil moisture', '30-cm temperature', '30-cm soil moisture', '60-cm temperature', '60-cm soil moisture', '90-cm temperature', '90-cm soil moisture'],
  ['Upper flat snow', '10-cm temperature', '10-cm soil moisture', '30-cm temperature', '30-cm soil moisture', 'Air & 60-cm soil temperature', 'soil moisture', '90-cm temperature', '90-cm soil moisture'],
  ['Upper south snow', '10-cm temperature', '10-cm soil moisture', '30-cm temperature', '30-cm soil moisture', '60-cm temperature', '60-cm soil moisture', '90-cm temperature', '90-cm soil moisture'],
  ['Lower north snow', '10-cm temperature', '10-cm soil moisture', '30-cm temperature', '30-cm soil moisture', '60-cm temperature', '60-cm soil moisture', '90-cm temperature', '90-cm soil moisture'],
  ['Lower south snow', '10-cm temperature', '10-cm soil moisture', '30-cm temperature', '30-cm soil moisture', '60-cm temperature', '60-cm soil moisture', '90-cm temperature', '90-cm soil moisture']
];
const SNOW_LBL_X = [35, 38, 26, 20, 18];
const LEGENDS = [
  { lx: 140, tx: 157, y0: 57.5, dy: 7.8, items: [['open', '#9a9ad8'], ['fir de', '#3a2a8c'], ['fir uc', '#4a4ae8'], ['pine de', '#c9cf8c'], ['pine uc', '#f2ee70'], ['cedar de', '#f4ae6c'], ['cedar uc', '#e84a50']] },
  { lx: 151, tx: 170, y0: 75.5, dy: 6.3, items: [['open', '#b4b4b4'], ['fir de', '#8a86c8'], ['fir uc', '#6a6ae8'], ['pine de', '#c4c4c4'], ['pine uc', '#e6e680']] },
  { lx: 150, tx: 168, y0: 75.5, dy: 6.3, items: [['open', '#b4b4b4'], ['fir de', '#8a86c8'], ['fir uc', '#6a6ae8'], ['oak de', '#c8c8b0'], ['oak uc', '#d8d890']] },
  { lx: 145, tx: 168, y0: 68.5, dy: 6.4, items: [['open', '#6a6ab8'], ['cedar de', '#5050d8'], ['cedar uc', '#3a3a9a'], ['fir de', '#b8c890'], ['fir uc', '#6a6ae8']] },
  { lx: 145, tx: 165, y0: 68.5, dy: 6.4, items: [['open', '#6a6ab8'], ['cedar de', '#5050d8'], ['cedar uc', '#3a3a9a'], ['fir de', '#b8c890'], ['fir uc', '#6a6ae8']] }
];

const framePlugin = {
  id: 'frame',
  afterDraw(ch) {
    const a = ch.chartArea, ctx = ch.ctx;
    ctx.save();
    ctx.strokeStyle = '#8c8c8c';
    ctx.lineWidth = 1;
    ctx.strokeRect(Math.round(a.left) + 0.5, Math.round(a.top) + 0.5,
      Math.round(a.right - a.left) - 1, Math.round(a.bottom - a.top) - 1);
    ctx.restore();
  }
};

const wrap = document.getElementById('wrap');
function mk(grid, arr) { return arr.map((v, i) => ({ x: grid[i], y: v })); }

PANELS.forEach(p => {
  const [top, h] = ROW[p.r];
  const left = COL_X[p.c];
  const kind = p.r === 'snow' ? 's' : p.r[0];
  const padL = p.c === 0 ? 44 : 6;
  const padR = (kind === 's' && p.c === 4) ? 13 : 4;
  const padT = kind === 's' ? 20 : 7;
  const padB = p.r === 'm90' ? 16 : 7;

  const cv = document.createElement('canvas');
  cv.width = PW + padL + padR;
  cv.height = h + padT + padB;
  cv.style.left = (left - padL) + 'px';
  cv.style.top = (top - padT) + 'px';
  wrap.appendChild(cv);

  const grid = kind === 's' ? SG : G;
  const ds = [];
  (p.s || []).forEach(([k, arr]) => ds.push({
    data: mk(grid, arr), borderColor: C[k], borderWidth: LW[p.r], pointRadius: 0,
    fill: false, cubicInterpolationMode: 'monotone', yAxisID: 'y'
  }));
  (p.band || []).forEach(([k, hi, lo]) => {
    ds.push({ data: mk(grid, hi), borderColor: C[k], backgroundColor: C[k], borderWidth: 1, pointRadius: 0, fill: '+1', yAxisID: 'y' });
    ds.push({ data: mk(grid, lo), borderColor: C[k], borderWidth: 1, pointRadius: 0, fill: false, yAxisID: 'y' });
  });
  if (kind !== 'm') {
    const air = p.c < 3 ? airUp : airLow;
    ds.push({
      data: air.map((v, i) => ({ x: i * AIR_STEP, y: v })), borderColor: C.air, borderWidth: 0.9,
      pointRadius: 0, fill: false, yAxisID: kind === 's' ? 'y2' : 'y', order: 10
    });
  }

  const yc = YCFG[kind];
  const scales = {
    x: {
      type: 'linear', min: 0, max: 250,
      afterBuildTicks: s => { s.ticks = GRID_X.map(v => ({ value: v })); },
      afterFit: s => { s.height = 0; },
      grid: { color: '#d6d6d6', drawTicks: false },
      border: { display: false },
      ticks: { display: false }
    },
    y: {
      type: 'linear', position: 'left', min: yc.min, max: yc.max,
      afterBuildTicks: s => { s.ticks = yc.ticks.map(v => ({ value: v })); },
      afterFit: s => { s.width = padL; },
      grid: { drawOnChartArea: false, drawTicks: true, tickLength: 4, color: '#777' },
      border: { display: false },
      ticks: {
        display: p.c === 0, autoSkip: false, padding: 2, color: '#222', font: { family: FONT, size: 9 },
        callback: v => kind === 'm' ? v.toFixed(1) : String(v)
      }
    }
  };
  if (kind === 's') {
    scales.y2 = {
      type: 'linear', position: 'right', min: -6, max: 30.5,
      afterBuildTicks: s => { s.ticks = [0, 10, 20, 30].map(v => ({ value: v })); },
      afterFit: s => { s.width = padR; },
      grid: { drawOnChartArea: false, drawTicks: p.c === 4, tickLength: 3, color: '#777' },
      border: { display: false },
      ticks: { display: p.c === 4, autoSkip: false, padding: 1, color: '#222', font: { family: FONT, size: 9 } }
    };
  }
  if (kind === 's' || p.r === 'm90') {
    scales.xm = {
      type: 'linear', min: 0, max: 250, position: kind === 's' ? 'top' : 'bottom',
      afterBuildTicks: s => { s.ticks = MONTH_POS.map(v => ({ value: v })); },
      afterFit: s => { s.height = kind === 's' ? padT : padB; },
      grid: { display: false, drawTicks: false },
      border: { display: false },
      ticks: {
        autoSkip: false, maxRotation: 0, padding: 2, color: '#111',
        font: { family: FONT, size: 13 }, callback: (v, i) => MONTH_LBL[i]
      }
    };
  }

  new Chart(cv, {
    type: 'line',
    data: { datasets: ds },
    options: {
      responsive: false, animation: false, devicePixelRatio: 1, events: [],
      layout: { padding: { left: 0, right: kind === 's' ? 0 : padR, top: kind === 's' ? 0 : padT, bottom: p.r === 'm90' ? 0 : padB } },
      plugins: { legend: { display: false }, tooltip: { enabled: false } },
      scales
    },
    plugins: [framePlugin]
  });

  // y-axis title on the first column
  if (p.c === 0) {
    const t = document.createElement('div');
    t.className = 'yt';
    t.style.fontSize = yc.tsize + 'px';
    t.style.left = yc.dx + 'px';
    t.style.top = (top + h / 2 + yc.dy) + 'px';
    t.textContent = yc.title;
    wrap.appendChild(t);
  }
});

// column titles
COL_TITLES.forEach((t, i) => {
  const d = document.createElement('div');
  d.className = 'ttl';
  d.style.left = COL_X[i] + 'px';
  d.textContent = t;
  wrap.appendChild(d);
});

// panel labels
LABELS.forEach((row, c) => {
  row.forEach((txt, j) => {
    const key = ROW_KEYS[j];
    const top = ROW[key][0];
    const d = document.createElement('div');
    d.className = 'lbl';
    d.textContent = txt;
    if (key === 'snow') {
      d.style.left = (COL_X[c] + SNOW_LBL_X[c]) + 'px';
      d.style.top = (top + 2) + 'px';
    } else if (key[0] === 't') {
      d.style.left = (COL_X[c] + 5) + 'px';
      d.style.top = (top + 3) + 'px';
    } else {
      d.style.left = (COL_X[c] + PW - 9 - 160) + 'px';
      d.style.width = '160px';
      d.style.textAlign = 'right';
      d.style.top = (top + 4) + 'px';
    }
    wrap.appendChild(d);
  });
});

// snow legends
LEGENDS.forEach((lg, c) => {
  lg.items.forEach(([txt, col], i) => {
    const d = document.createElement('div');
    d.className = 'leg';
    d.style.left = (COL_X[c] + lg.lx) + 'px';
    d.style.top = (lg.y0 + i * lg.dy) + 'px';
    const ln = document.createElement('i');
    ln.style.width = (lg.tx - lg.lx - 3) + 'px';
    ln.style.borderColor = col;
    d.appendChild(ln);
    d.appendChild(document.createTextNode(txt));
    wrap.appendChild(d);
  });
});
</script>
</body>
</html>
